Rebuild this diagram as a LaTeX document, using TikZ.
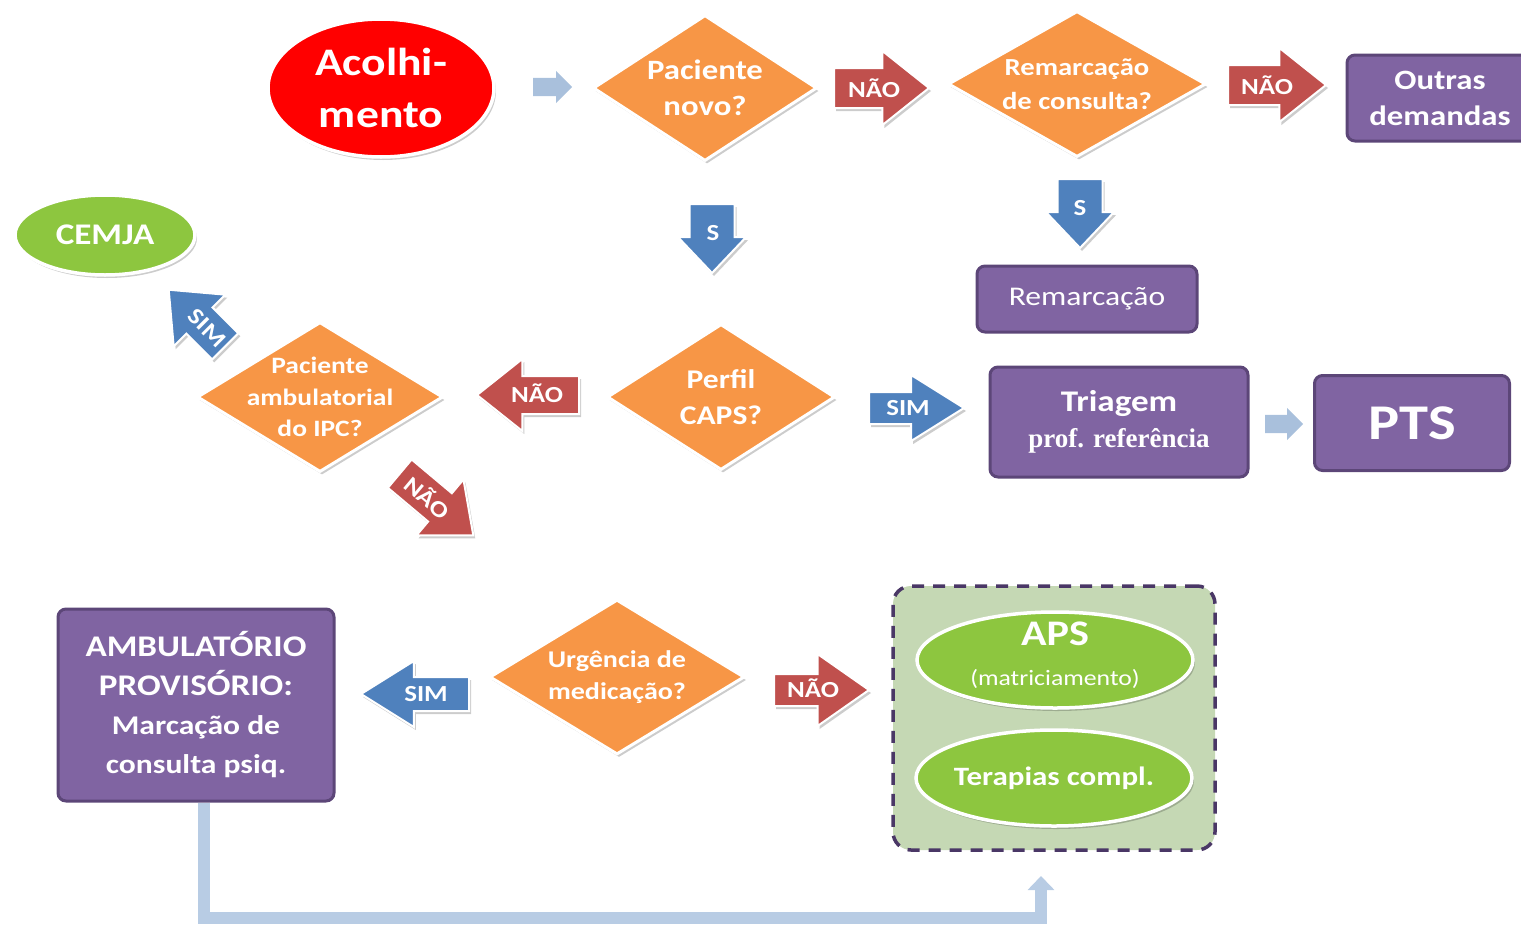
\documentclass[tikz,border=0pt]{standalone}
\usepackage{fontspec}
\setmainfont{Carlito}[FakeStretch=1.17]
\newfontfamily\refserif{Liberation Serif}
\usetikzlibrary{shapes.geometric,shapes.arrows,shadows,arrows.meta}

\definecolor{acred}{HTML}{FF0000}
\definecolor{decorange}{HTML}{F79646}
\definecolor{noRed}{HTML}{C0504D}
\definecolor{yesBlue}{HTML}{4F81BD}
\definecolor{boxPurple}{HTML}{8064A2}
\definecolor{boxEdge}{HTML}{5C4678}
\definecolor{leafGreen}{HTML}{8DC63F}
\definecolor{groupFill}{HTML}{C5D8B4}
\definecolor{groupEdge}{HTML}{4A3766}
\definecolor{flowBlue}{HTML}{A9C0DC}
\definecolor{linkBlue}{HTML}{B8CCE4}

\newcommand\fsz[2]{\fontsize{#1}{#2}\selectfont}

\tikzset{
  softshadow/.style={drop shadow={shadow xshift=2pt, shadow yshift=-3pt, fill=black, opacity=0.2}},
  decision/.style={diamond, draw=white, line width=3pt, fill=decorange, inner sep=0pt, softshadow},
  oval/.style={ellipse, draw=white, line width=3.5pt, inner sep=0pt, softshadow},
  task/.style={rectangle, rounded corners=8pt, draw=boxEdge, line width=3pt, fill=boxPurple,
    text=white, align=center, inner sep=0pt},
  txt/.style={text=white, align=center, inner sep=0pt},
  blk/.style={single arrow, anchor=tail, draw=white, line width=2pt, inner xsep=0pt,
    text height=0pt, text depth=0pt, softshadow},
  light/.style={single arrow, anchor=tail, fill=flowBlue, inner xsep=0pt, inner ysep=9pt,
    text height=0pt, text depth=0pt, single arrow head extend=7pt, single arrow tip angle=90},
  arrowtxt/.style={text=white, inner sep=0pt, font=\bfseries\fsz{23}{26}},
  groupbox/.style={rectangle, rounded corners=18pt, draw=groupEdge, line width=3.5pt,
    dash pattern=on 12pt off 9pt, fill=groupFill},
  conn/.style={draw=linkBlue, line width=12pt, -{Triangle[width=26pt,length=14pt]}}
}

\begin{document}
\begin{tikzpicture}[x=1pt, y=-1pt]
\useasboundingbox (0,0) rectangle (1521,924);
\clip (0,0) rectangle (1521,924);

% grouping frame for the non-urgent destinations
\node[groupbox, minimum width=322, minimum height=264] (grp) at (1054,718) {};

% top row
\node[oval, fill=acred, minimum width=226, minimum height=138,
  label={[txt, font=\bfseries\fsz{39}{52}]center:{Acolhi-\\mento}}] (acol) at (381,88) {};
\node[light, minimum height=39] (a1) at (533,87) {};
\node[decision, minimum width=224, minimum height=146,
  label={[txt, font=\bfseries\fsz{28}{36}]center:{Paciente\\novo?}}] (pn) at (705,88) {};
\node[blk, fill=noRed, minimum height=95, inner ysep=19pt, single arrow head extend=17pt,
  single arrow tip angle=77] (no1) at (833,88) {};
\node[arrowtxt] (no1t) at (874,88) {NÃO};
\node[decision, minimum width=258, minimum height=146,
  label={[txt, font=\bfseries\fsz{24.5}{34}]center:{Remarcação\\de consulta?}}] (rc) at (1077,84) {};
\node[blk, fill=noRed, minimum height=98, inner ysep=19pt, single arrow head extend=17pt,
  single arrow tip angle=77] (no2) at (1227,85) {};
\node[arrowtxt] (no2t) at (1267,85) {NÃO};
\node[task, minimum width=186, minimum height=86, font=\bfseries\fsz{28}{36}] (od) at (1440,98) {Outras\\demandas};

% second row
\node[blk, fill=yesBlue, rotate=-90, minimum height=69, inner ysep=21.5pt,
  single arrow head extend=11.5pt, single arrow tip angle=87] (s1) at (712,203) {};
\node[arrowtxt] (s1t) at (713,233) {S};
\node[blk, fill=yesBlue, rotate=-90, minimum height=69, inner ysep=21.5pt,
  single arrow head extend=11.5pt, single arrow tip angle=87] (s2) at (1080,178) {};
\node[arrowtxt] (s2t) at (1080,208) {S};
\node[task, minimum width=220, minimum height=66, font=\fsz{27}{32}] (rm) at (1087,299) {Remarcação};
\node[oval, fill=leafGreen, minimum width=180, minimum height=80,
  label={[txt, font=\bfseries\fsz{30}{36}]center:{CEMJA}}] (cem) at (105,235) {};

% third row
\node[blk, fill=yesBlue, rotate=135, minimum height=80, inner ysep=17.5pt,
  single arrow head extend=18pt, single arrow tip angle=80] (si3) at (226,347) {};
\node[arrowtxt, rotate=-45] (si3t) at (207,328) {SIM};
\node[decision, minimum width=246, minimum height=150,
  label={[txt, font=\bfseries\fsz{23.5}{31.5}]center:{Paciente\\ambulatorial\\do IPC?}}] (ipc) at (320,397) {};
\node[blk, fill=noRed, rotate=180, minimum height=102, inner ysep=18pt, single arrow head extend=17pt,
  single arrow tip angle=77] (no3) at (580,395) {};
\node[arrowtxt] (no3t) at (537,393) {NÃO};
\node[decision, minimum width=228, minimum height=146,
  label={[txt, font=\bfseries\fsz{27}{36}]center:{Perfil\\CAPS?}}] (caps) at (721,397) {};
\node[blk, fill=yesBlue, minimum height=95, inner ysep=15pt, single arrow head extend=17pt,
  single arrow tip angle=64] (si1) at (868,408) {};
\node[arrowtxt] (si1t) at (908,408) {SIM};
\node[task, minimum width=258, minimum height=110, font=\fsz{27}{36}] (tri) at (1119,422)
  {{\bfseries\fsz{30}{36}Triagem}\\{\refserif\bfseries\fsz{27}{36}prof. referência}};
\node[light, minimum height=38] (a2) at (1265,424) {};
\node[task, minimum width=195, minimum height=95, font=\bfseries\fsz{50}{56}] (pts) at (1412,423) {PTS};
\node[blk, fill=noRed, rotate=-40, minimum height=96, inner ysep=17.5pt,
  single arrow head extend=18pt, single arrow tip angle=80] (no5) at (399,473) {};
\node[arrowtxt, rotate=-40] (no5t) at (428,497) {NÃO};

% bottom row
\node[task, minimum width=276, minimum height=192, font=\bfseries\fsz{30}{39}] (amb) at (196,705)
  {AMBULATÓRIO\\PROVISÓRIO:\\{\fsz{27}{38}Marcação de}\\{\fsz{27}{38}consulta psiq.}};
\node[blk, fill=yesBlue, rotate=180, minimum height=108, inner ysep=16pt, single arrow head extend=16pt,
  single arrow tip angle=64] (si2) at (470,694) {};
\node[arrowtxt] (si2t) at (426,694) {SIM};
\node[decision, minimum width=255, minimum height=155,
  label={[txt, font=\bfseries\fsz{24}{32}]center:{Urgência de\\medicação?}}] (urg) at (617,677) {};
\node[blk, fill=noRed, minimum height=95, inner ysep=15pt, single arrow head extend=20pt,
  single arrow tip angle=70] (no4) at (773,690) {};
\node[arrowtxt] (no4t) at (813,688) {NÃO};
\node[oval, fill=leafGreen, minimum width=276, minimum height=96,
  label={[txt, font=\fsz{22}{40}, yshift=5pt]center:{{\bfseries\fsz{36}{40}APS}\\(matriciamento)}}] (aps) at (1055,660) {};
\node[oval, fill=leafGreen, minimum width=276, minimum height=96,
  label={[txt, font=\bfseries\fsz{26.5}{32}]center:{Terapias compl.}}] (ter) at (1054,778) {};

% return link from the outpatient box to the grouped services
\coordinate (bend) at (204,918);
\coordinate (grpin) at (1041,876);
\draw[conn] (amb.south -| bend) -- (bend) -| (grpin);
\end{tikzpicture}
\end{document}
